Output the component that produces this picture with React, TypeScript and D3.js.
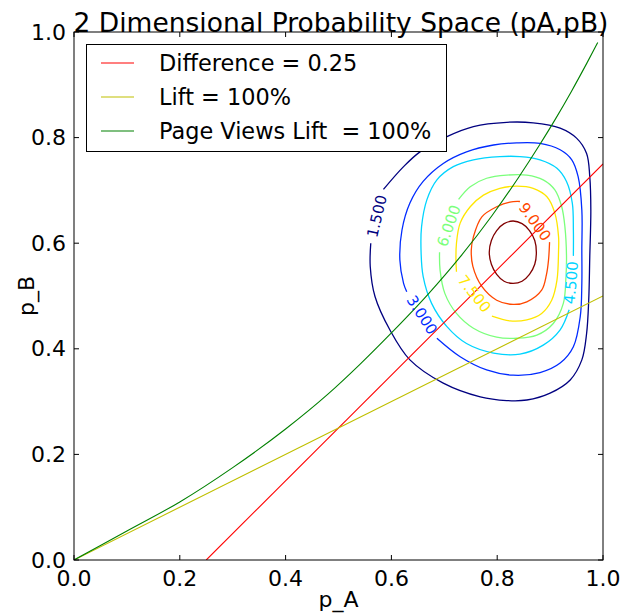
import * as d3 from "d3";

// contour levels of the joint density over (pA, pB)
const levels = [1.5, 3.0, 4.5, 6.0, 7.5, 9.0, 10.5];

// contour paths; labelled ones start and end at the label gap
const contour15: [number, number][] = [
  [0.585, 0.702], [0.623, 0.745], [0.654, 0.773], [0.705, 0.802], [0.755, 0.821],
  [0.818, 0.829], [0.868, 0.828], [0.919, 0.818], [0.950, 0.799], [0.969, 0.770],
  [0.975, 0.726], [0.977, 0.663], [0.975, 0.574], [0.973, 0.492], [0.969, 0.429],
  [0.960, 0.379], [0.938, 0.341], [0.900, 0.316], [0.856, 0.303], [0.818, 0.302],
  [0.768, 0.309], [0.698, 0.335], [0.635, 0.379], [0.597, 0.436], [0.569, 0.499],
  [0.560, 0.556], [0.561, 0.600],
];
const contour30: [number, number][] = [
  [0.686, 0.420], [0.730, 0.385], [0.780, 0.360], [0.830, 0.350], [0.881, 0.355],
  [0.919, 0.373], [0.944, 0.404], [0.957, 0.461], [0.960, 0.524], [0.960, 0.587],
  [0.960, 0.663], [0.953, 0.726], [0.941, 0.758], [0.919, 0.777], [0.881, 0.789],
  [0.837, 0.790], [0.793, 0.786], [0.742, 0.773], [0.698, 0.751], [0.660, 0.717],
  [0.635, 0.676], [0.620, 0.625], [0.616, 0.568], [0.623, 0.524], [0.629, 0.508],
];
const contour45: [number, number][] = [
  [0.936, 0.474], [0.919, 0.436], [0.887, 0.407], [0.843, 0.390], [0.793, 0.392],
  [0.742, 0.410], [0.705, 0.442], [0.676, 0.486], [0.660, 0.537], [0.656, 0.587],
  [0.657, 0.631], [0.667, 0.682], [0.686, 0.720], [0.717, 0.745], [0.755, 0.758],
  [0.805, 0.764], [0.843, 0.764], [0.881, 0.758], [0.913, 0.742], [0.931, 0.717],
  [0.942, 0.676], [0.944, 0.625], [0.944, 0.576],
];
const contour60: [number, number][] = [
  [0.727, 0.683], [0.749, 0.707], [0.780, 0.723], [0.818, 0.729], [0.856, 0.729],
  [0.887, 0.720], [0.909, 0.701], [0.922, 0.669], [0.928, 0.631], [0.931, 0.576],
  [0.930, 0.537], [0.925, 0.486], [0.906, 0.448], [0.875, 0.426], [0.837, 0.420],
  [0.799, 0.422], [0.755, 0.439], [0.723, 0.467], [0.701, 0.505], [0.692, 0.549],
  [0.691, 0.583],
];
const contour75: [number, number][] = [
  [0.790, 0.462], [0.824, 0.453], [0.856, 0.455], [0.884, 0.467], [0.903, 0.492],
  [0.913, 0.530], [0.916, 0.587], [0.916, 0.612], [0.909, 0.657], [0.894, 0.688],
  [0.868, 0.704], [0.837, 0.708], [0.805, 0.704], [0.774, 0.691], [0.749, 0.669],
  [0.730, 0.638], [0.723, 0.600], [0.722, 0.568], [0.723, 0.546],
];
const contour90: [number, number][] = [
  [0.899, 0.602], [0.897, 0.568], [0.893, 0.540], [0.884, 0.511], [0.856, 0.489],
  [0.830, 0.484], [0.799, 0.492], [0.771, 0.518], [0.754, 0.556], [0.751, 0.587],
  [0.755, 0.612], [0.771, 0.650], [0.799, 0.669], [0.824, 0.678], [0.843, 0.679],
];
const contour105: [number, number][] = [
  [0.830, 0.642], [0.847, 0.637], [0.861, 0.624], [0.871, 0.605], [0.874, 0.583],
  [0.871, 0.560], [0.861, 0.541], [0.847, 0.528], [0.830, 0.524], [0.813, 0.528],
  [0.799, 0.541], [0.789, 0.560], [0.785, 0.583], [0.789, 0.605], [0.799, 0.624],
  [0.813, 0.637],
];

const contourPaths = [contour15, contour30, contour45, contour60, contour75, contour90, contour105];
const contourLabels = ["1.500", "3.000", "4.500", "6.000", "7.500", "9.000", ""];

// reference lines
const differenceLine: [number, number][] = [[0.25, 0], [1.0, 0.75]];
const liftLine: [number, number][] = [[0, 0], [1.0, 0.5]];
const pageViewsLine: [number, number][] = [
  [0, 0], [0.1, 0.055], [0.2, 0.11], [0.3, 0.175], [0.4, 0.248], [0.48, 0.314],
  [0.54, 0.37], [0.6, 0.43], [0.67, 0.504], [0.73, 0.574], [0.79, 0.652],
  [0.84, 0.724], [0.88, 0.786], [0.91, 0.835], [0.94, 0.887], [0.97, 0.942], [0.99, 0.98],
];

const legendLabels = ["Difference = 0.25", "Lift = 100%", "Page Views Lift  = 100%"];
const tickValues = [0, 0.2, 0.4, 0.6, 0.8, 1.0];

const width = 620;
const height = 615;
const box = { left: 74, right: 603, top: 32, bottom: 560 };

const jet = ["#000080", "#002bff", "#00d4ff", "#7bff7b", "#ffe600", "#ff4800", "#800000"];
const lineColors = ["#ff0000", "#bfbf00", "#008000"];
const font = "'DejaVu Sans', sans-serif";

const App = () => {
  const x = d3.scaleLinear().domain([0, 1]).range([box.left, box.right]);
  const y = d3.scaleLinear().domain([0, 1]).range([box.bottom, box.top]);
  const color = d3.scaleOrdinal<number, string>().domain(levels).range(jet);

  const openLine = d3.line<[number, number]>()
    .x((d) => x(d[0]))
    .y((d) => y(d[1]))
    .curve(d3.curveCatmullRom);
  const closedLine = d3.line<[number, number]>()
    .x((d) => x(d[0]))
    .y((d) => y(d[1]))
    .curve(d3.curveCatmullRomClosed);
  const straight = d3.line<[number, number]>()
    .x((d) => x(d[0]))
    .y((d) => y(d[1]));
  const smooth = d3.line<[number, number]>()
    .x((d) => x(d[0]))
    .y((d) => y(d[1]))
    .curve(d3.curveMonotoneX);

  // label sits in the gap between the first and last point of the path
  const labelPos = (pts: [number, number][]) => {
    const a = pts[0];
    const b = pts[pts.length - 1];
    const ax = x(a[0]), ay = y(a[1]), bx = x(b[0]), by = y(b[1]);
    let ang = (Math.atan2(by - ay, bx - ax) * 180) / Math.PI;
    if (ang > 90) ang -= 180;
    if (ang <= -90) ang += 180;
    return { cx: (ax + bx) / 2, cy: (ay + by) / 2, ang };
  };

  const refLines = [differenceLine, liftLine, pageViewsLine];

  return (
    <svg
      width={width}
      height={height}
      viewBox={`0 0 ${width} ${height}`}
      style={{ position: "absolute", left: 0, top: 0, background: "#fff" }}
      fontFamily={font}
    >
      <defs>
        <clipPath id="plot-area">
          <rect x={box.left} y={box.top} width={box.right - box.left} height={box.bottom - box.top} />
        </clipPath>
      </defs>

      <g className="contours" fill="none" strokeWidth={1.3}>
        {contourPaths.map((pts, i) => (
          <path
            key={`c-${i}`}
            d={(contourLabels[i] ? openLine(pts) : closedLine(pts)) || ""}
            stroke={color(levels[i])}
          />
        ))}
      </g>

      <g className="ref-lines" fill="none" strokeWidth={1.1} clipPath="url(#plot-area)">
        <path d={straight(refLines[0]) || ""} stroke={lineColors[0]} />
        <path d={straight(refLines[1]) || ""} stroke={lineColors[1]} />
        <path d={smooth(refLines[2]) || ""} stroke={lineColors[2]} />
      </g>

      <g className="contour-labels" fontSize={15}>
        {contourPaths.map((pts, i) => {
          if (!contourLabels[i]) return null;
          const p = labelPos(pts);
          return (
            <text
              key={`l-${i}`}
              transform={`translate(${p.cx},${p.cy}) rotate(${p.ang})`}
              textAnchor="middle"
              dominantBaseline="central"
              fill={color(levels[i])}
            >
              {contourLabels[i]}
            </text>
          );
        })}
      </g>

      <rect
        x={box.left}
        y={box.top}
        width={box.right - box.left}
        height={box.bottom - box.top}
        fill="none"
        stroke="#000"
        strokeWidth={1}
      />

      <g className="ticks" stroke="#000" strokeWidth={1}>
        {tickValues.map((t) => (
          <g key={`t-${t}`}>
            <line x1={x(t)} x2={x(t)} y1={box.bottom} y2={box.bottom - 5} />
            <line x1={x(t)} x2={x(t)} y1={box.top} y2={box.top + 5} />
            <line x1={box.left} x2={box.left + 5} y1={y(t)} y2={y(t)} />
            <line x1={box.right} x2={box.right - 5} y1={y(t)} y2={y(t)} />
          </g>
        ))}
      </g>

      <g className="tick-labels" fontSize={22} fill="#000">
        {tickValues.map((t) => (
          <text key={`xl-${t}`} x={x(t)} y={box.bottom + 26} textAnchor="middle">
            {t.toFixed(1)}
          </text>
        ))}
        {tickValues.map((t) => (
          <text key={`yl-${t}`} x={box.left - 8} y={y(t)} textAnchor="end" dominantBaseline="central">
            {t.toFixed(1)}
          </text>
        ))}
      </g>

      <text x={(box.left + box.right) / 2} y={607} textAnchor="middle" fontSize={22}>p_A</text>
      <text
        transform={`translate(34,${(box.top + box.bottom) / 2}) rotate(-90)`}
        textAnchor="middle"
        fontSize={22}
      >
        p_B
      </text>

      <text x={341} y={32} textAnchor="middle" fontSize={26.5}>
        2 Dimensional Probability Space (pA,pB)
      </text>

      <g className="legend">
        <rect x={86.5} y={44.5} width={360} height={107} fill="#fff" stroke="#000" strokeWidth={1} />
        {legendLabels.map((label, i) => (
          <g key={label} transform={`translate(0,${63 + i * 34})`}>
            <line x1={101} x2={134} y1={0} y2={0} stroke={lineColors[i]} strokeWidth={1.1} />
            <text x={159} y={8} fontSize={22.4} style={{ whiteSpace: "pre" }}>
              {label}
            </text>
          </g>
        ))}
      </g>
    </svg>
  );
};

export default App;
